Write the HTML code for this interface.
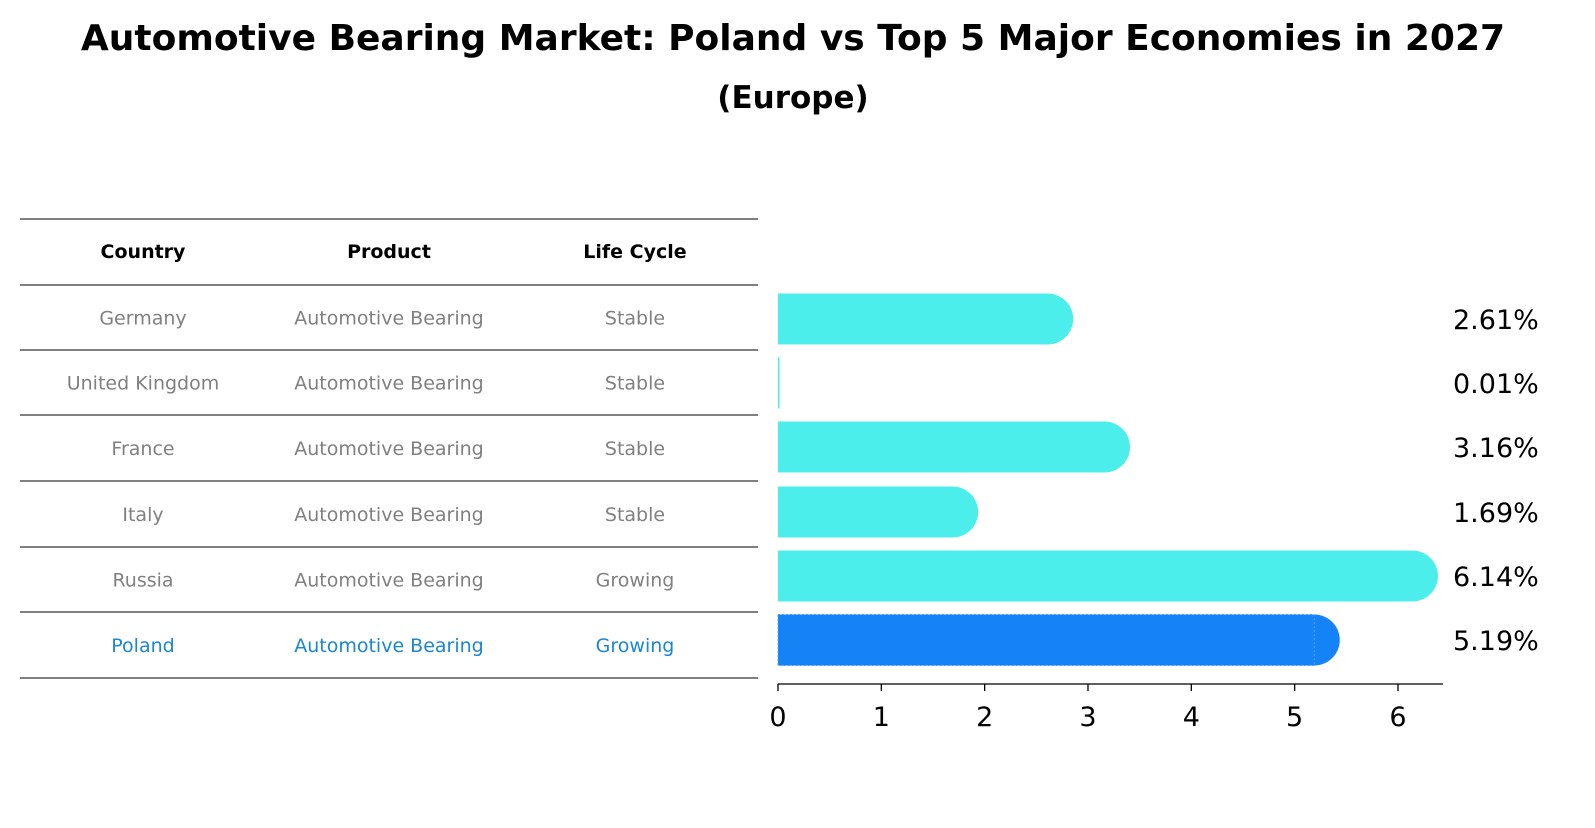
<!DOCTYPE html>
<html><head><meta charset="utf-8"><style>
body{margin:0;background:#fff;font-family:"Liberation Sans","DejaVu Sans",sans-serif;}
</style></head><body>
<svg id="chart" width="1595" height="823" xmlns="http://www.w3.org/2000/svg" font-family="DejaVu Sans, Liberation Sans, sans-serif">
<text x="793" y="50" text-anchor="middle" font-size="36" font-weight="bold">Automotive Bearing Market: Poland vs Top 5 Major Economies in 2027</text>
<text x="793" y="108" text-anchor="middle" font-size="31" font-weight="bold">(Europe)</text>
<g id="table"></g>
<g id="bars"></g>
</svg>
<script>
const countries=["Germany","United Kingdom","France","Italy","Russia","Poland"];
const products=["Automotive Bearing","Automotive Bearing","Automotive Bearing","Automotive Bearing","Automotive Bearing","Automotive Bearing"];
const lifeCycles=["Stable","Stable","Stable","Stable","Growing","Growing"];
const values=[2.61,0.01,3.16,1.69,6.14,5.19];
const xTicks=[0,1,2,3,4,5,6];
const NS="http://www.w3.org/2000/svg";
function mk(tag,attrs,parent,txt){const e=document.createElementNS(NS,tag);for(const k in attrs)e.setAttribute(k,attrs[k]);if(txt!==undefined)e.textContent=txt;parent.appendChild(e);return e;}
const table=document.getElementById('table');
const lineYs=[219,285,350,415,481,547,612,678];
lineYs.forEach(y=>{const l=mk('line',{x1:20,x2:758,y1:y,y2:y,stroke:'#000','stroke-width':1},table);});
const colX=[143,389,635];
["Country","Product","Life Cycle"].forEach((h,i)=>{const t=mk('text',{x:colX[i],y:258,'text-anchor':'middle','font-size':19,'font-weight':'bold'},table,h);});
countries.forEach((c,r)=>{const y=(lineYs[r+1]+lineYs[r+2])/2+7;const col=c==="Poland"?'#1a86d8':'#808080';
[c,products[r],lifeCycles[r]].forEach((v,i)=>{const t=mk('text',{x:colX[i],y:y,'text-anchor':'middle','font-size':19,fill:col},table,v);});});
const bars=document.getElementById('bars');
const x0=778,pxPer=103.33;const xs=v=>x0+v*pxPer;
const yCenters=[319,383,447,512,576,640];const bh=51;
values.forEach((v,i)=>{const isP=countries[i]==="Poland";const fill=isP?'#1583f5':'#4beeea';
const g=mk('g',{},bars);
const w=xs(v)-x0;const yc=yCenters[i];
if(v<0.05){mk('rect',{x:x0,y:yc-bh/2,width:Math.max(w,1.5),height:bh,fill:fill},g);}
else{mk('rect',{x:x0,y:yc-bh/2,width:w,height:bh,fill:fill},g);mk('circle',{cx:xs(v),cy:yc,r:bh/2,fill:fill},g);}
if(isP){mk('rect',{x:x0,y:yc-bh/2,width:w,height:bh,fill:'none',stroke:'#4aa0ff','stroke-dasharray':'2,2','stroke-width':1},g);}
const t=mk('text',{x:1453,y:yc+10,'font-size':27},bars,v.toFixed(2)+'%');});
const ax=mk('line',{x1:x0,x2:1443,y1:684,y2:684,stroke:'#000','stroke-width':1.3},bars);
xTicks.forEach(v=>{const tk=mk('line',{x1:xs(v),x2:xs(v),y1:684,y2:691,stroke:'#000','stroke-width':1.3},bars);
const t=mk('text',{x:xs(v),y:726,'text-anchor':'middle','font-size':27},bars,String(v));});
</script>
</body></html>
